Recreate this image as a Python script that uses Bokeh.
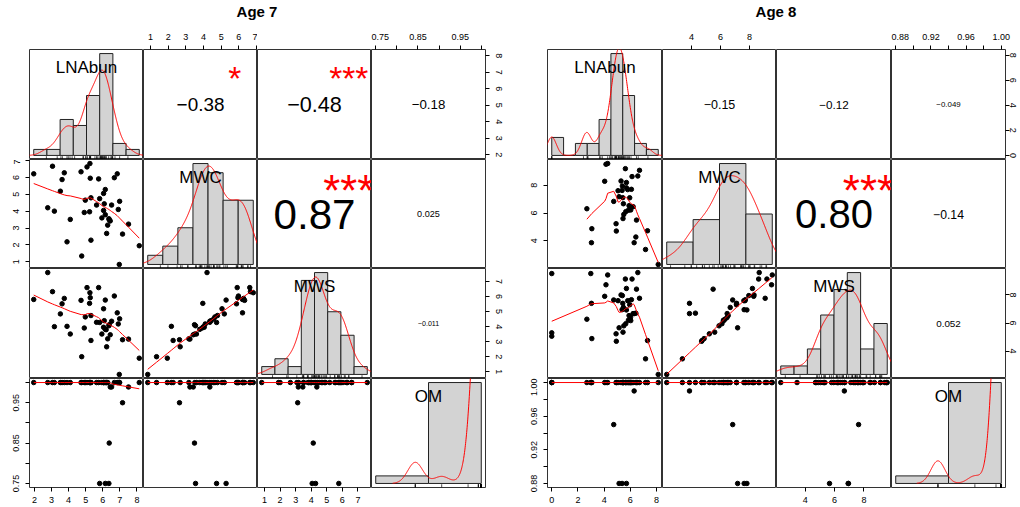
import numpy as np
from bokeh.plotting import figure
from bokeh.layouts import gridplot, row, column
from bokeh.models import Range1d, LinearAxis, FixedTicker, CustomJSTickFormatter, Div, Spacer
from bokeh.core.properties import value
from bokeh.embed import file_html
from bokeh.resources import INLINE

nan = float("nan")
VARS = ["LNAbun", "MWC", "MWS", "OM"]

# ---------------- Age 7 data ----------------
L7 = [1.96, 2.78, 3.06, 3.62, 3.75, 3.52, 3.17, 3.91, 4.10, 4.73, 5.08, 5.25, 5.27, 5.23, 5.76,
      4.98, 4.92, 5.31, 4.77, 5.64, 5.82, 6.05, 6.15, 6.09, 6.05, 5.95, 6.15, 6.29, 6.23, 6.38,
      6.52, 6.44, 6.68, 6.85, 6.91, 6.99, 6.97, 7.16, 7.51, 8.14, 5.31, 6.36, 6.20]
C7 = [6.21, 4.20, 6.66, 5.87, 6.27, 5.18, 4.00, 2.18, 3.51, 6.33, 6.62, 6.82, 5.95, 3.96, 5.91,
      4.65, 3.92, 2.28, 1.34, 4.36, 4.74, 5.05, 5.28, 4.43, 4.04, 3.60, 3.79, 3.17, 2.68, 3.49,
      4.36, 3.42, 5.98, 6.21, 4.10, 4.58, 0.84, 2.64, 3.23, 1.95, 4.79, 3.55, nan]
S7 = [5.81, 7.60, 6.33, 5.52, 5.88, 4.85, 4.00, 4.02, 3.51, 5.75, 6.60, 6.26, 5.93, 5.55, 6.60,
      4.65, 3.91, 3.08, 2.00, 4.29, 4.28, 5.19, 5.77, 4.40, 3.96, 3.51, 3.82, 3.19, 2.66, 4.13,
      4.36, 3.46, 6.04, 4.92, 4.18, 4.52, 0.82, 3.13, 3.17, 1.90, 4.74, 4.06, 3.80]
OM7 = [1, 1, 1, 1, 1, 1, 1, 1, 1, 1, 1, 1, 1, 1, 1, 1, 1, 1, 1, 1,
       0.75, 1, 0.75, 1, 1, 1, 1, 1, 1, 0.85, 0.989, 0.989, 1, 1, 1, 1, 1,
       0.95, 0.989, 1, 1, 0.75, 1]
BREAKS7 = [[1, 2, 3, 4, 5, 6, 7, 8, 9], [0, 1, 2, 3, 4, 5, 6, 7], [0, 1, 2, 3, 4, 5, 6, 7, 8], [0.6, 0.8, 1.0]]
TICKS7 = [[2, 3, 4, 5, 6, 7, 8], [1, 2, 3, 4, 5, 6, 7], [1, 2, 3, 4, 5, 6, 7],
          [0.75, 0.80, 0.85, 0.90, 0.95, 1.00]]
TLAB7 = [["2", "3", "4", "5", "6", "7", "8"], ["1", "2", "3", "4", "5", "6", "7"],
         ["1", "2", "3", "4", "5", "6", "7"], ["0.75", "", "0.85", "", "0.95", ""]]
# upper cells in order (0,1),(0,2),(0,3),(1,2),(1,3),(2,3)
CORR_R7 = [-0.38, -0.48, -0.18, 0.87, 0.025, -0.011]
CORR_T7 = ["\u22120.38", "\u22120.48", "\u22120.18", "0.87", "0.025", "\u22120.011"]
STARS7 = ["*", "***", "", "***", "", ""]

# ---------------- Age 8 data ----------------
L8 = [0.00, 0.00, 0.00, 2.68, 2.98, 3.03, 3.06, 4.04, 4.14, 4.27, 4.73, 4.91, 4.93, 5.06, 5.14,
      5.29, 5.39, 5.42, 5.44, 5.47, 5.62, 5.65, 5.70, 5.80, 5.90, 6.01, 6.03, 6.08, 6.13, 6.21,
      6.29, 6.42, 6.47, 6.57, 6.70, 7.16, 7.31, 8.13, 5.37, 5.70, 5.50, 5.85, 5.95]
C8 = [nan, nan, nan, 6.31, nan, 3.86, 4.87, 8.29, 9.52, 9.57, 6.84, 5.23, 4.70, 7.61, 7.18,
      8.31, 7.95, 7.11, 5.60, 6.67, 9.20, 6.10, 8.20, 7.69, 6.53, 6.45, 6.22, 7.71, 8.63, 6.46,
      3.86, 4.27, 5.49, 8.67, 9.08, 3.37, 4.72, 2.29, 7.63, 7.82, 5.90, 6.20, 7.10]
S8 = [9.52, 5.30, 5.06, 6.27, 9.52, 7.40, 4.89, 7.90, 8.72, 9.42, 7.64, 5.23, 4.70, 7.59, 5.66,
      8.00, 7.95, 7.40, 5.35, 7.11, 9.13, 5.95, 8.46, 7.59, 6.53, 6.39, 6.17, 7.66, 9.13, 6.67,
      6.67, 6.70, 8.41, 9.59, 7.76, 3.45, 4.75, 2.34, 6.95, 6.93, 5.80, 6.20, 7.30]
OM8 = [1, 1, 1, 1, 1, 1, 1, 1, 1, 1, 0.95, 1, 1, 1, 0.88, 1, 1, 1, 1, 1, 1, 1, 1, 1, 1, 1, 1, 1,
       1, 1, 0.99, 1, 1, 1, 1, 1, 1, 1, 0.88, 0.88, 1, 1, 1]
BREAKS8 = [[0, 1, 2, 3, 4, 5, 6, 7, 8, 9], [2, 4, 6, 8, 10], [2, 3, 4, 5, 6, 7, 8, 9, 10], [0.8, 0.9, 1.0]]
TICKS8 = [[0, 2, 4, 6, 8], [4, 6, 8], [4, 6, 8], [0.88, 0.90, 0.92, 0.94, 0.96, 0.98, 1.00]]
TLAB8 = [["0", "2", "4", "6", "8"], ["4", "6", "8"], ["4", "6", "8"],
         ["0.88", "", "0.92", "", "0.96", "", "1.00"]]
CORR_R8 = [-0.15, -0.12, -0.049, 0.80, -0.14, 0.052]
CORR_T8 = ["\u22120.15", "\u22120.12", "\u22120.049", "0.80", "\u22120.14", "0.052"]
STARS8 = ["", "", "", "***", "", ""]

FONT = "Liberation Sans"
AW = {"0": .556, "1": .556, "2": .556, "3": .556, "4": .556, "5": .556, "6": .556, "7": .556,
      "8": .556, "9": .556, ".": .278, "\u2212": .584, "-": .333, "*": .389}


def em(s):
    return sum(AW.get(c, .556) for c in s)


def ext(lo, hi, f=0.04):
    d = hi - lo
    return (lo - f * d, hi + f * d)


def rhist(x, br):
    x = x[np.isfinite(x)]
    br = np.asarray(br, float)
    cnt = np.zeros(len(br) - 1)
    for k in range(len(br) - 1):
        lo, hi = br[k], br[k + 1]
        m = ((x > lo) | ((k == 0) & (x >= lo))) & (x <= hi)
        cnt[k] = m.sum()
    return cnt / (len(x) * np.diff(br))


def rdensity(x):
    x = x[np.isfinite(x)]
    n = len(x)
    sd = x.std(ddof=1)
    q75, q25 = np.percentile(x, [75, 25])
    lo = min(sd, (q75 - q25) / 1.34)
    if not lo:
        lo = sd or abs(x[0]) or 1.0
    bw = 0.9 * lo * n ** -0.2
    gx = np.linspace(x.min() - 3 * bw, x.max() + 3 * bw, 512)
    gy = np.exp(-0.5 * ((gx[:, None] - x[None, :]) / bw) ** 2).sum(1) / (n * bw * np.sqrt(2 * np.pi))
    return gx, gy


def _lowest(x, y, n, xs, nleft, nright, userw, rw):
    rng = x[n - 1] - x[0]
    h = max(xs - x[nleft], x[nright] - xs)
    h9 = .999 * h
    h1 = .001 * h
    w = np.zeros(n)
    a = 0.0
    j = nleft
    while j < n:
        r = abs(x[j] - xs)
        if r <= h9:
            w[j] = 1.0 if r <= h1 else (1 - (r / h) ** 3) ** 3
            if userw:
                w[j] *= rw[j]
            a += w[j]
        elif x[j] > xs:
            break
        j += 1
    nrt = j - 1
    if a <= 0:
        return None
    sl = slice(nleft, nrt + 1)
    w[sl] /= a
    if h > 0:
        aa = np.sum(w[sl] * x[sl])
        b = xs - aa
        c = np.sum(w[sl] * (x[sl] - aa) ** 2)
        if np.sqrt(c) > .001 * rng:
            b /= c
            w[sl] *= (b * (x[sl] - aa) + 1)
    return float(np.sum(w[sl] * y[sl]))


def lowess(x, y, f=2 / 3, nsteps=3):
    x = np.asarray(x, float)
    y = np.asarray(y, float)
    ok = np.isfinite(x) & np.isfinite(y)
    x, y = x[ok], y[ok]
    o = np.argsort(x, kind="mergesort")
    x, y = x[o], y[o]
    n = len(x)
    ns = max(2, min(n, int(f * n + 1e-7)))
    delta = 0.01 * (x[-1] - x[0])
    rw = np.ones(n)
    ys = np.zeros(n)
    it = 1
    while it <= nsteps + 1:
        nleft, nright, last, i = 0, ns - 1, -1, 0
        while True:
            if nright < n - 1:
                d1 = x[i] - x[nleft]
                d2 = x[nright + 1] - x[i]
                if d1 > d2:
                    nleft += 1
                    nright += 1
                    continue
            v = _lowest(x, y, n, x[i], nleft, nright, it > 1, rw)
            ys[i] = y[i] if v is None else v
            if last < i - 1:
                denom = x[i] - x[last]
                for j in range(last + 1, i):
                    alpha = (x[j] - x[last]) / denom
                    ys[j] = alpha * ys[i] + (1 - alpha) * ys[last]
            last = i
            cut = x[last] + delta
            i = last + 1
            while i < n:
                if x[i] > cut:
                    break
                if x[i] == x[last]:
                    ys[i] = ys[last]
                    last = i
                i += 1
            i = max(last + 1, i - 1)
            if last >= n - 1:
                break
        res = y - ys
        sc = np.mean(np.abs(res))
        if it > nsteps:
            break
        cmad = 6 * np.median(np.abs(res))
        if cmad < 1e-7 * sc:
            break
        c9, c1 = .999 * cmad, .001 * cmad
        r = np.abs(res)
        rw = np.where(r <= c1, 1.0, np.where(r <= c9, (1 - (r / cmad) ** 2) ** 2, 0.0))
        it += 1
    return x, ys


def make_axis(ticks, labels, vertical, standoff):
    ax = LinearAxis(
        ticker=FixedTicker(ticks=ticks, minor_ticks=[]),
        formatter=CustomJSTickFormatter(
            args=dict(t=ticks, l=labels),
            code="for (let k = 0; k < t.length; k++) { if (Math.abs(t[k] - tick) < 1e-9) return l[k]; } return '';"))
    ax.axis_line_color = None
    ax.major_tick_out = 4
    ax.major_tick_in = 0
    ax.minor_tick_line_color = None
    ax.major_tick_line_color = "black"
    ax.major_label_text_font = FONT
    ax.major_label_text_color = "black"
    ax.major_label_text_font_size = "9px"
    ax.major_label_standoff = standoff
    if vertical:
        ax.major_label_orientation = "vertical"
    return ax


def build_panel(data, breaks, ticks, tlabs, corr_r, corr_t, stars, fws, fhs, bl, br_, bt, bb, right_standoff):
    cols = [np.asarray(d, float) for d in data]
    rngs = [ext(np.nanmin(c), np.nanmax(c)) for c in cols]
    upper_k = {(0, 1): 0, (0, 2): 1, (0, 3): 2, (1, 2): 3, (1, 3): 4, (2, 3): 5}
    grid = []
    for i in range(4):
        rowfigs = []
        for j in range(4):
            fw = fws[j]
            fh = fhs[i]
            if i == j:
                dens = rhist(cols[i], breaks[i])
                xr = ext(breaks[i][0], breaks[i][-1])
                yr = ext(0, dens.max())
            else:
                xr = rngs[j]
                yr = rngs[i]
            p = figure(frame_width=fw, frame_height=fh, x_range=Range1d(*xr), y_range=Range1d(*yr),
                       x_axis_location=None, y_axis_location=None, toolbar_location=None, tools="",
                       output_backend="svg", min_border=0,
                       min_border_left=bl if j == 0 else 0, min_border_right=br_ if j == 3 else 0,
                       min_border_top=bt if i == 0 else 0, min_border_bottom=bb if i == 3 else 0)
            p.outline_line_color = "#333333"
            p.outline_line_width = 1
            p.background_fill_color = "white"
            p.border_fill_color = "white"
            p.grid.visible = False
            p.extra_x_ranges = {"u": Range1d(0, 1)}
            p.extra_y_ranges = {"u": Range1d(0, 1)}
            if i == j:
                b = np.asarray(breaks[i], float)
                p.quad(left=b[:-1], right=b[1:], bottom=0, top=dens, fill_color="#D3D3D3",
                       line_color="#222222", line_width=1)
                gx, gy = rdensity(cols[i])
                p.line(gx, gy, line_color="red", line_width=1)
                xv = cols[i][np.isfinite(cols[i])]
                p.segment(x0=xv, x1=xv, y0=yr[0], y1=yr[0] + 0.03 * (yr[1] - yr[0]),
                          line_color="black", line_width=0.7)
                p.text(x=[0.5], y=[0.833], text=[VARS[i]], x_range_name="u", y_range_name="u",
                       text_font=value(FONT), text_font_size=value("17px"), text_align="center",
                       text_baseline="middle", text_color="black")
            elif i > j:
                p.scatter(cols[j], cols[i], size=4.5, color="black", marker="circle")
                lx, ly = lowess(cols[j], cols[i])
                p.line(lx, ly, line_color="red", line_width=1)
            else:
                k = upper_k[(i, j)]
                txt = corr_t[k]
                base = 0.8 * fw / em(txt)
                fs = base * (abs(corr_r[k]) + 0.3) / 1.3
                p.text(x=[0.5], y=[0.5], text=[txt], x_range_name="u", y_range_name="u",
                       text_font=value(FONT), text_font_size=value(f"{fs:.1f}px"), text_align="center",
                       text_baseline="middle", text_color="black")
                if stars[k]:
                    sfs = base * 0.93
                    p.text(x=[0.8], y=[0.8], text=[stars[k]], x_range_name="u", y_range_name="u",
                           text_font=value(FONT), text_font_size=value(f"{sfs:.1f}px"), text_align="center",
                           text_baseline="middle", text_color="red", y_offset=0.22 * sfs)
            # axes (R pairs convention)
            if i == 0 and j % 2 == 1:
                p.add_layout(make_axis(ticks[j], tlabs[j], False, 6), "above")
            if i == 3 and j % 2 == 0:
                p.add_layout(make_axis(ticks[j], tlabs[j], False, 5), "below")
            if j == 0 and i % 2 == 1:
                p.add_layout(make_axis(ticks[i], tlabs[i], True, 6), "left")
            if j == 3 and i % 2 == 0:
                p.add_layout(make_axis(ticks[i], tlabs[i], True, right_standoff), "right")
            rowfigs.append(p)
        grid.append(rowfigs)
    return gridplot(grid, toolbar_location=None)


FH = [110, 109, 110, 109]
g7 = build_panel([L7, C7, S7, OM7], BREAKS7, TICKS7, TLAB7, CORR_R7, CORR_T7, STARS7,
                 [114, 114, 114, 114], FH, 29, 24, 25, 20, 6)
g8 = build_panel([L8, C8, S8, OM8], BREAKS8, TICKS8, TLAB8, CORR_R8, CORR_T8, STARS8,
                 [115, 114, 115, 114], FH, 38, 15, 25, 20, 0)

tstyle = {"font-family": FONT, "font-weight": "bold", "font-size": "15px",
          "text-align": "center", "line-height": "24px", "color": "black"}
d7 = Div(text="Age 7", width=514, height=24, margin=(0, 0, 0, 0), styles=tstyle)
d8 = Div(text="Age 8", width=458, height=24, margin=(0, 0, 0, 0), styles=tstyle)
layout = column(row(d7, Spacer(width=33, height=24), d8), row(g7, g8))

open("out.html", "w").write(file_html(layout, INLINE, title="pairs"))
